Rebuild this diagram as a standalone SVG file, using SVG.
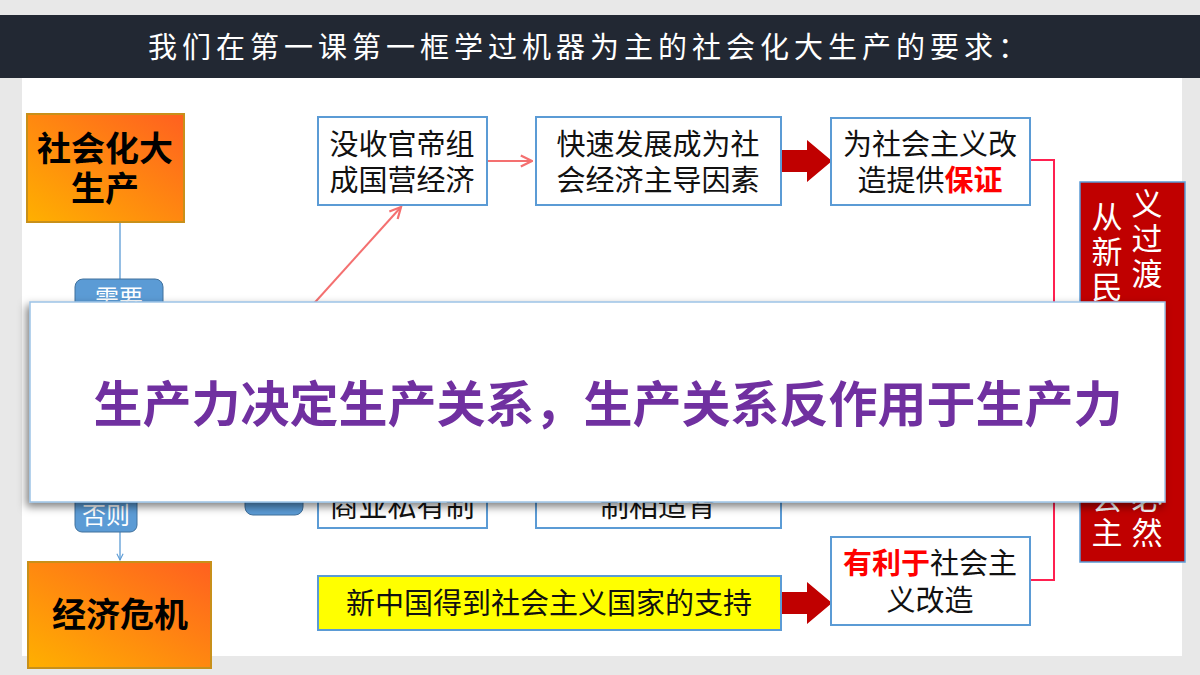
<svg xmlns="http://www.w3.org/2000/svg" width="1200" height="675" viewBox="0 0 1200 675">
<defs>
<linearGradient id="og" x1="0" y1="1" x2="1" y2="0"><stop offset="0" stop-color="#ffb000"/><stop offset="1" stop-color="#ff6020"/></linearGradient>
<marker id="ah" viewBox="0 0 10 10" refX="9" refY="5" markerWidth="7" markerHeight="7" orient="auto"><path d="M1,1 L9,5 L1,9" fill="none" stroke="#f47070" stroke-width="1.6"/></marker>
<marker id="ab" viewBox="0 0 10 10" refX="9" refY="5" markerWidth="6" markerHeight="6" orient="auto"><path d="M1,1 L9,5 L1,9" fill="none" stroke="#5b9bd5" stroke-width="1.4"/></marker>
<filter id="sh" x="-5%" y="-10%" width="110%" height="130%"><feDropShadow dx="-3" dy="4" stdDeviation="4" flood-color="#000" flood-opacity="0.5"/></filter>
</defs>
<style>
text{font-family:"Noto Sans CJK SC","Noto Sans",sans-serif}
.bx{fill:#fff;stroke:#5b9bd5;stroke-width:2}
.t{font-size:29px;fill:#111}
.ob{fill:url(#og);stroke:#c8901a;stroke-width:2}
.obt{font-size:34px;font-weight:bold;fill:#000}
.pill{fill:#5b9bd5;stroke:#41719c;stroke-width:1}
.pt{font-size:24px;fill:#fff}
.ba{fill:#c00000}
.rt{font-size:31px;fill:#fff}
</style>
<rect width="1200" height="675" fill="#e8e8e8"/>
<rect x="22" y="78" width="1160" height="578" fill="#fff"/>
<rect x="0" y="15" width="1200" height="63" fill="#222833"/>
<text x="590" y="58" text-anchor="middle" font-size="29" fill="#fff" letter-spacing="5" style="font-family:'Noto Sans CJK SC',serif">我们在第一课第一框学过机器为主的社会化大生产的要求：</text>

<g id="connectors">
<line x1="120" y1="222" x2="120" y2="280" stroke="#5b9bd5" stroke-width="1.3"/>
<line x1="120" y1="532" x2="120" y2="560" stroke="#5b9bd5" stroke-width="1.3" marker-end="url(#ab)"/>
<line x1="487" y1="161" x2="532" y2="161" stroke="#f47070" stroke-width="2" marker-end="url(#ah)"/>
<line x1="290" y1="330" x2="401" y2="207" stroke="#f47070" stroke-width="2" marker-end="url(#ah)"/>
<polygon class="ba" points="782,150 807,150 807,140 832,161 807,182 807,172 782,172"/>
<polygon class="ba" points="782,592 807,592 807,582 832,603 807,624 807,614 782,614"/>
<polyline points="1030,160 1054,160 1054,580 1030,580" fill="none" stroke="#ff2050" stroke-width="2"/>
<line x1="781" y1="500" x2="805" y2="500" stroke="#f47070" stroke-width="2"/>
</g>

<g id="n1"><rect class="ob" x="27" y="114" width="157" height="108"/>
<text class="obt" x="105" y="161" text-anchor="middle">社会化大</text><text class="obt" x="105" y="201" text-anchor="middle">生产</text></g>
<g id="n2"><rect class="pill" x="75" y="279" width="88" height="40" rx="8"/><text class="pt" x="119" y="307" text-anchor="middle">需要</text></g>
<g id="n3"><rect class="pill" x="75" y="490" width="62" height="42" rx="7"/><text class="pt" x="106" y="524" text-anchor="middle">否则</text></g>
<g id="n4"><rect class="ob" x="28" y="562" width="183" height="106"/><text class="obt" x="120" y="627" text-anchor="middle">经济危机</text></g>
<g id="n5"><rect class="bx" x="318" y="117" width="169" height="88"/>
<text class="t" x="402" y="155" text-anchor="middle">没收官帝组</text><text class="t" x="402" y="191" text-anchor="middle">成国营经济</text></g>
<g id="n6"><rect class="bx" x="536" y="117" width="245" height="88"/>
<text class="t" x="658" y="155" text-anchor="middle">快速发展成为社</text><text class="t" x="658" y="191" text-anchor="middle">会经济主导因素</text></g>
<g id="n7"><rect class="bx" x="831" y="118" width="199" height="87"/>
<text class="t" x="930" y="155" text-anchor="middle">为社会主义改</text><text class="t" x="930" y="191" text-anchor="middle">造提供<tspan fill="#ff0000" font-weight="bold">保证</tspan></text></g>
<g id="n8"><rect class="pill" x="245" y="460" width="58" height="55" rx="8"/></g>
<g id="n9"><rect class="bx" x="318" y="440" width="169" height="88"/><text class="t" x="402" y="517" text-anchor="middle">商业私有制</text></g>
<g id="n10"><rect class="bx" x="536" y="440" width="245" height="88"/><text class="t" x="658" y="517" text-anchor="middle">制相适背</text></g>
<g id="n11"><rect x="318" y="576" width="463" height="54" fill="#ffff00" stroke="#5b9bd5" stroke-width="2"/>
<text class="t" x="549" y="614" text-anchor="middle">新中国得到社会主义国家的支持</text></g>
<g id="n12"><rect class="bx" x="831" y="537" width="199" height="88"/>
<text class="t" x="930" y="574" text-anchor="middle"><tspan fill="#ff0000" font-weight="bold">有利于</tspan>社会主</text><text class="t" x="930" y="611" text-anchor="middle">义改造</text></g>
<g id="n13"><rect x="1080" y="182" width="105" height="380" fill="#c00000" stroke="#5b9bd5" stroke-width="1.5"/>
<text class="rt" x="1107" y="228" text-anchor="middle">从</text><text class="rt" x="1107" y="263" text-anchor="middle">新</text><text class="rt" x="1107" y="298" text-anchor="middle">民</text>
<text class="rt" x="1107" y="509" text-anchor="middle">会</text><text class="rt" x="1107" y="544" text-anchor="middle">主</text>
<text class="rt" x="1147" y="215" text-anchor="middle">义</text><text class="rt" x="1147" y="250" text-anchor="middle">过</text><text class="rt" x="1147" y="285" text-anchor="middle">渡</text>
<text class="rt" x="1147" y="509" text-anchor="middle">必</text><text class="rt" x="1147" y="544" text-anchor="middle">然</text></g>

<g id="overlay"><rect x="30" y="302" width="1135" height="200" fill="#fff" stroke="#9dc3e6" stroke-width="1.5" filter="url(#sh)"/>
<text x="608" y="422" text-anchor="middle" font-size="49" font-weight="bold" fill="#7030a0">生产力决定生产关系，生产关系反作用于生产力</text></g>
</svg>
